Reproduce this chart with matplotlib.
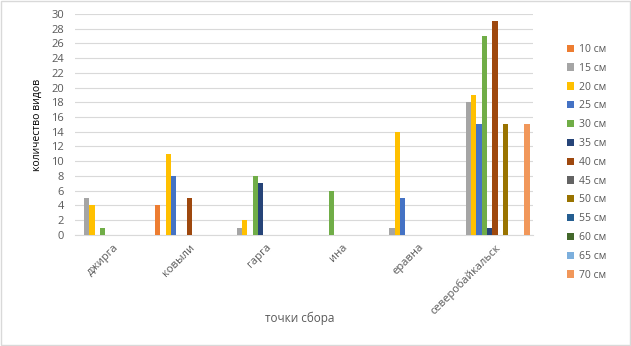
import numpy as np
import matplotlib

matplotlib.use('agg')

import matplotlib.pyplot as plt

sites = ['джирга', 'ковыли', 'гарга', 'ина', 'еравна', 'северобайкальск']
sizes = ['10 см', '15 см', '20 см', '25 см', '30 см', '35 см', '40 см',
         '45 см', '50 см', '55 см', '60 см', '65 см', '70 см']

# values per size class, one entry per site
s10 = [0, 4, 0, 0, 0, 0]
s15 = [5, 0, 1, 0, 1, 18]
s20 = [4, 11, 2, 0, 14, 19]
s25 = [0, 8, 0, 0, 5, 15]
s30 = [1, 0, 8, 6, 0, 27]
s35 = [0, 0, 7, 0, 0, 1]
s40 = [0, 5, 0, 0, 0, 29]
s45 = [0, 0, 0, 0, 0, 0]
s50 = [0, 0, 0, 0, 0, 15]
s55 = [0, 0, 0, 0, 0, 0]
s60 = [0, 0, 0, 0, 0, 0]
s65 = [0, 0, 0, 0, 0, 0]
s70 = [0, 0, 0, 0, 0, 15]

series = [s10, s15, s20, s25, s30, s35, s40, s45, s50, s55, s60, s65, s70]
colors = ['#ED7D31', '#A5A5A5', '#FFC000', '#4472C4', '#70AD47', '#264478',
          '#9E480E', '#636363', '#997300', '#255E91', '#43682B', '#7CAFDD',
          '#F1975A']

plt.rcParams['font.family'] = ['Open Sans', 'DejaVu Sans']
text_color = '#595959'

fig = plt.figure(figsize=(6.31, 3.46), dpi=100)
ax = fig.add_axes([0.119, 0.321, 0.726, 0.639])

x = np.arange(len(sites))
w = 0.07
for i, vals in enumerate(series):
    ax.bar(x + (i - 6) * w, vals, width=w, color=colors[i], label=sizes[i],
           zorder=3)

ax.set_xlim(-0.5, len(sites) - 0.5)
ax.set_ylim(0, 30)
ax.set_yticks(range(0, 31, 2))
ax.set_xticks(x)
ax.set_xticklabels(sites, rotation=45, ha='right', rotation_mode='anchor',
                   fontsize=8, color=text_color)
ax.tick_params(axis='y', length=0, labelsize=8, labelcolor=text_color, pad=8)
ax.tick_params(axis='x', length=0, pad=5)
ax.grid(axis='y', color='#D9D9D9', linewidth=0.8, zorder=0)
for side in ('top', 'right', 'left'):
    ax.spines[side].set_visible(False)
ax.spines['bottom'].set_color('#D9D9D9')

ax.set_ylabel('количество видов', fontsize=7.5, color='black', labelpad=6)
ax.set_xlabel('точки сбора', fontsize=8.5, color=text_color)
ax.xaxis.set_label_coords(0.49, -0.345)

fig.legend(loc='upper left', bbox_to_anchor=(0.883, 0.9), frameon=False,
           fontsize=7.5, labelcolor=text_color, handlelength=0.7,
           handleheight=0.7, handletextpad=0.5, labelspacing=0.75)

fig.patches.append(plt.Rectangle((0.002, 0.003), 0.996, 0.994,
                                 transform=fig.transFigure, fill=False,
                                 edgecolor='#D9D9D9', linewidth=1))

fig.savefig('out.png', dpi=100)
